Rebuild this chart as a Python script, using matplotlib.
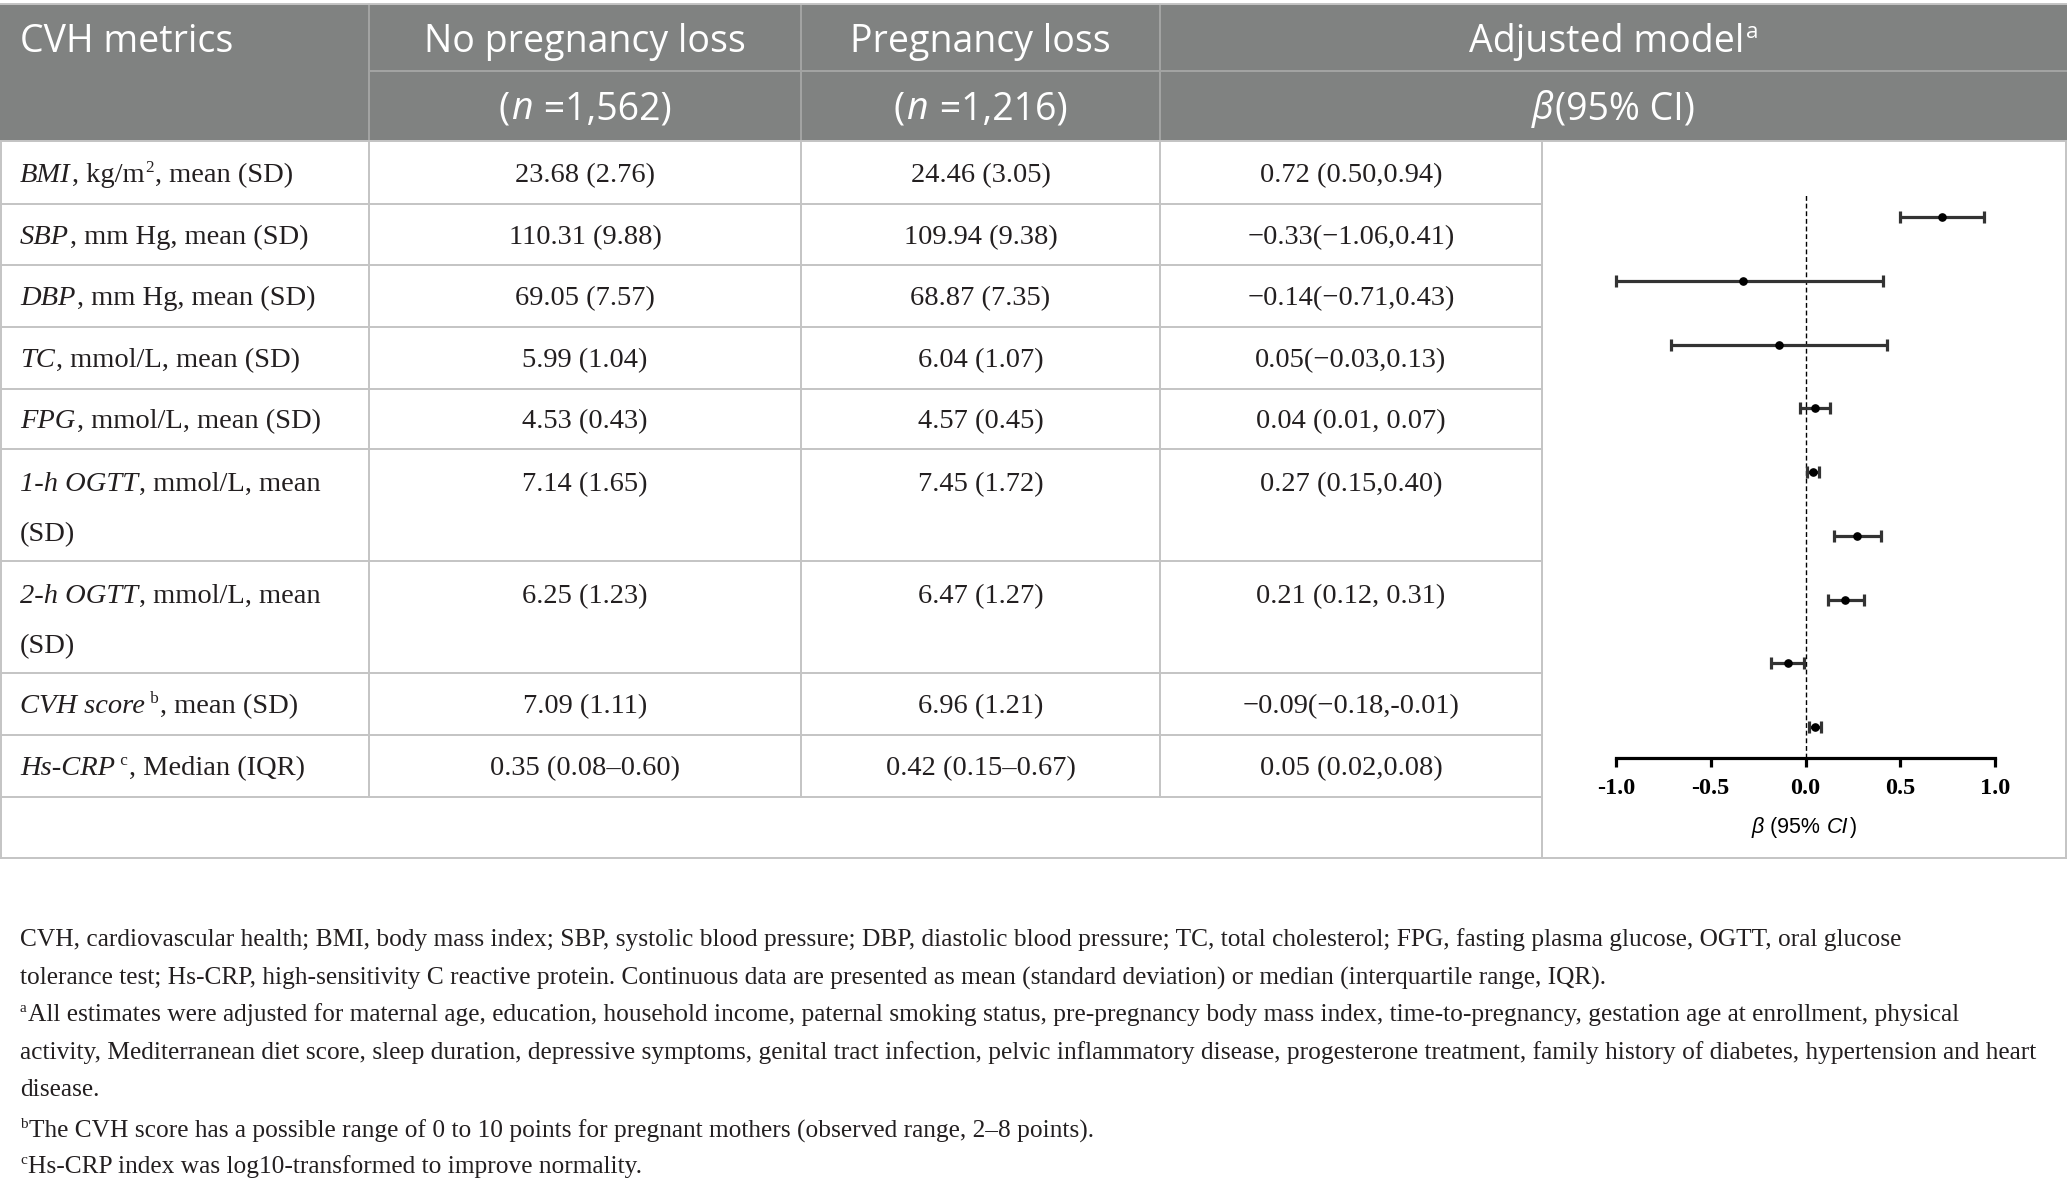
import matplotlib
matplotlib.use('Agg')
import numpy as np
import matplotlib.pyplot as plt

# table content
metric_labels = [
    [("BMI", "i"), (", kg/m", "r"), ("2", "s"), (", mean (SD)", "r")],
    [("SBP", "i"), (", mm Hg, mean (SD)", "r")],
    [("DBP", "i"), (", mm Hg, mean (SD)", "r")],
    [("TC", "i"), (", mmol/L, mean (SD)", "r")],
    [("FPG", "i"), (", mmol/L, mean (SD)", "r")],
    [("1-h OGTT", "i"), (", mmol/L, mean", "r")],
    [("2-h OGTT", "i"), (", mmol/L, mean", "r")],
    [("CVH score", "i"), (" b", "s"), (", mean (SD)", "r")],
    [("Hs-CRP", "i"), (" c", "s"), (", Median (IQR)", "r")],
]
metric_line2 = ["", "", "", "", "", "(SD)", "(SD)", "", ""]
no_loss = ["23.68 (2.76)", "110.31 (9.88)", "69.05 (7.57)", "5.99 (1.04)", "4.53 (0.43)",
           "7.14 (1.65)", "6.25 (1.23)", "7.09 (1.11)", "0.35 (0.08\u20130.60)"]
loss = ["24.46 (3.05)", "109.94 (9.38)", "68.87 (7.35)", "6.04 (1.07)", "4.57 (0.45)",
        "7.45 (1.72)", "6.47 (1.27)", "6.96 (1.21)", "0.42 (0.15\u20130.67)"]
adjusted = ["0.72 (0.50,0.94)", "\u22120.33(\u22121.06,0.41)", "\u22120.14(\u22120.71,0.43)",
            "0.05(\u22120.03,0.13)", "0.04 (0.01, 0.07)", "0.27 (0.15,0.40)",
            "0.21 (0.12, 0.31)", "\u22120.09(\u22120.18,-0.01)", "0.05 (0.02,0.08)"]

# forest plot values
beta = np.array([0.72, -0.33, -0.14, 0.05, 0.04, 0.27, 0.21, -0.09, 0.05])
ci_low = np.array([0.50, -1.06, -0.71, -0.03, 0.01, 0.15, 0.12, -0.18, 0.02])
ci_high = np.array([0.94, 0.41, 0.43, 0.13, 0.07, 0.40, 0.31, -0.01, 0.08])
x_ticks = [-1.0, -0.5, 0.0, 0.5, 1.0]
x_tick_labels = ["-1.0", "-0.5", "0.0", "0.5", "1.0"]

footnotes = [
    [("CVH, cardiovascular health; BMI, body mass index; SBP, systolic blood pressure; DBP, diastolic blood pressure; TC, total cholesterol; FPG, fasting plasma glucose, OGTT, oral glucose", "r")],
    [("tolerance test; Hs-CRP, high-sensitivity C reactive protein. Continuous data are presented as mean (standard deviation) or median (interquartile range, IQR).", "r")],
    [("a", "s"), ("All estimates were adjusted for maternal age, education, household income, paternal smoking status, pre-pregnancy body mass index, time-to-pregnancy, gestation age at enrollment, physical", "r")],
    [("activity, Mediterranean diet score, sleep duration, depressive symptoms, genital tract infection, pelvic inflammatory disease, progesterone treatment, family history of diabetes, hypertension and heart", "r")],
    [("disease.", "r")],
    [("b", "s"), ("The CVH score has a possible range of 0 to 10 points for pregnant mothers (observed range, 2\u20138 points).", "r")],
    [("c", "s"), ("Hs-CRP index was log10-transformed to improve normality.", "r")],
]

W, H = 2067, 1185
fig = plt.figure(figsize=(W / 100, H / 100), dpi=100)
ax = fig.add_axes([0, 0, 1, 1])
ax.set_xlim(0, W)
ax.set_ylim(H, 0)
ax.axis('off')
renderer = fig.canvas.get_renderer()

TXT = '#231f20'
GRID = '#c4c4c4'
HEAD = '#808281'
PX = 100 / 72.0

col_x = [0, 369, 801, 1160, 1542, 2066]
row_h = [63, 61, 62, 62, 60, 112, 112, 62, 62]
head_top, head_mid, head_bot = 4, 71, 141
row_y = [head_bot]
for h in row_h:
    row_y.append(row_y[-1] + h)
table_bot = row_y[-1] + 61


def draw_runs(x, y, runs, ha='left', size=21, family='Liberation Serif', color=TXT):
    # y is the visual centre of the line, runs are (text, style)
    em = size * PX
    base = y + 0.33 * em
    objs = []
    for s, st in runs:
        fs = size * 0.6 if st == 's' else size
        t = ax.text(0, base, s, fontsize=fs, family=family, color=color,
                    style='italic' if st == 'i' else 'normal', va='baseline', ha='left')
        objs.append((t, st))
    widths = [t.get_window_extent(renderer).width for t, _ in objs]
    gap = 0.04 * em
    total = sum(widths) + gap * (len(objs) - 1)
    x0 = x - total / 2 if ha == 'center' else x
    for (t, st), w in zip(objs, widths):
        dy = -0.36 * em if st == 's' else 0
        t.set_position((x0, base + dy))
        x0 += w + gap


# header block
ax.fill_between([0, W], head_top, head_bot, color=HEAD, lw=0)
for cx in col_x[1:4]:
    ax.plot([cx, cx], [head_top, head_bot], color='#a3a4a3', lw=1.4)
ax.plot([col_x[1], W], [head_mid, head_mid], color='#a3a4a3', lw=1.4)
ax.plot([0, W], [head_top, head_top], color=GRID, lw=1.4)

hs = 27
hf = 'Open Sans'
y1 = (head_top + head_mid) / 2 + 2
y2 = (head_mid + head_bot) / 2 + 1
draw_runs(20, y1, [("CVH metrics", "r")], size=hs, family=hf, color='white')
draw_runs((col_x[1] + col_x[2]) / 2, y1, [("No pregnancy loss", "r")], ha='center', size=hs, family=hf, color='white')
draw_runs((col_x[2] + col_x[3]) / 2, y1, [("Pregnancy loss", "r")], ha='center', size=hs, family=hf, color='white')
draw_runs((col_x[3] + W) / 2, y1, [("Adjusted model", "r"), ("a", "s")], ha='center', size=hs, family=hf, color='white')
draw_runs((col_x[1] + col_x[2]) / 2, y2, [("(", "r"), ("n", "i"), (" =1,562)", "r")], ha='center', size=hs, family=hf, color='white')
draw_runs((col_x[2] + col_x[3]) / 2, y2, [("(", "r"), ("n", "i"), (" =1,216)", "r")], ha='center', size=hs, family=hf, color='white')
draw_runs((col_x[3] + W) / 2, y2, [("\u03b2", "i"), ("(95% CI)", "r")], ha='center', size=hs, family=hf, color='white')

# body grid
for yy in row_y:
    ax.plot([0, col_x[4]], [yy, yy], color=GRID, lw=1.4)
ax.plot([0, W], [table_bot, table_bot], color=GRID, lw=1.4)
ax.plot([0, W], [head_bot, head_bot], color=GRID, lw=1.4)
for cx in col_x[1:4]:
    ax.plot([cx, cx], [head_bot, row_y[-1]], color=GRID, lw=1.4)
for cx in [1, col_x[4], W - 1]:
    ax.plot([cx, cx], [head_bot, table_bot], color=GRID, lw=1.4)

bs = 20.5
for i in range(len(metric_labels)):
    top, bot = row_y[i], row_y[i + 1]
    if metric_line2[i]:
        yc = top + 33
        draw_runs(20, yc + 50, [(metric_line2[i], "r")], size=bs)
    else:
        yc = (top + bot) / 2
    draw_runs(20, yc, metric_labels[i], size=bs)
    draw_runs((col_x[1] + col_x[2]) / 2, yc, [(no_loss[i], "r")], ha='center', size=bs)
    draw_runs((col_x[2] + col_x[3]) / 2, yc, [(loss[i], "r")], ha='center', size=bs)
    draw_runs((col_x[3] + col_x[4]) / 2, yc, [(adjusted[i], "r")], ha='center', size=bs)

# footnotes
fn_y = [938, 976, 1013, 1051, 1088, 1129, 1165]
for yy, runs in zip(fn_y, footnotes):
    draw_runs(20, yy, runs, size=18.3)

# forest plot
ax_top, ax_bot = 193, 758
fx0, fx1 = 1616, 1995
fax = fig.add_axes([fx0 / W, 1 - ax_bot / H, (fx1 - fx0) / W, (ax_bot - ax_top) / H])
pos = np.arange(len(beta))
step = 63.75
fax.set_xlim(-1, 1)
fax.set_ylim((ax_bot - 217) / step, (ax_top - 217) / step)
fax.patch.set_alpha(0)
lo = np.clip(ci_low, -1, 1)
fax.axvline(0, color='black', lw=1.0, ls=(0, (3.5, 2)))
fax.errorbar(beta, pos, xerr=[beta - lo, ci_high - beta], fmt='o', color='black', ms=5.2,
             ecolor='#333333', elinewidth=2.3, capsize=4, capthick=2.3, clip_on=False)
for s in ['top', 'right', 'left']:
    fax.spines[s].set_visible(False)
fax.spines['bottom'].set_linewidth(2.3)
fax.spines['bottom'].set_bounds(-1, 1)
fax.set_yticks([])
fax.set_xticks(x_ticks)
fax.set_xticklabels(x_tick_labels, family='Liberation Serif', fontweight='bold', fontsize=17.5)
fax.tick_params(axis='x', direction='out', length=6.5, width=2.3, pad=8, colors='black')

draw_runs(1804, 826, [("\u03b2", "i"), (" (95% ", "r"), ("CI", "i"), (")", "r")], ha='center',
          size=15.5, family='Liberation Sans', color='black')

fig.savefig('out.png', dpi=100)
